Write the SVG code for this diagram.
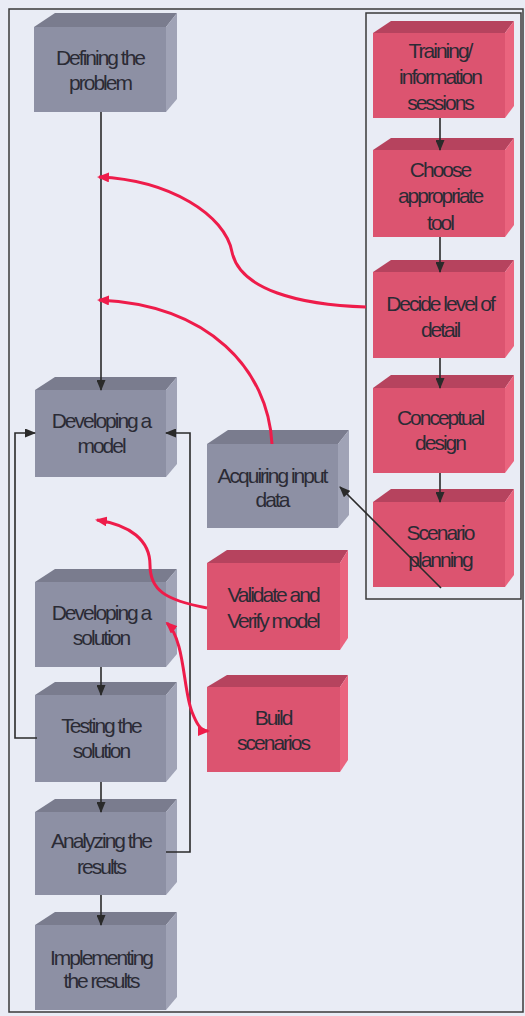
<svg xmlns="http://www.w3.org/2000/svg" width="525" height="1016" viewBox="0 0 525 1016">
<style>
.gf{fill:#8d90a4}.gt{fill:#7a7c8e}.gs{fill:#a0a3b6}
.pf{fill:#dc5470}.pt{fill:#b6435e}.ps{fill:#ea647e}
text{font-family:"Liberation Sans",Arial,sans-serif;font-size:21px;letter-spacing:-2px;fill:#2b2b35;text-anchor:middle}
.k{stroke:#2a2a2a;stroke-width:1.6;fill:none}
.r{stroke:#ee1c4a;stroke-width:3;fill:none}
</style>
<defs>
<marker id="ak" markerUnits="userSpaceOnUse" markerWidth="11" markerHeight="9" refX="10" refY="4.5" orient="auto"><path d="M0,0 L11,4.5 L0,9 z" fill="#2a2a2a"/></marker>
<marker id="ar" markerUnits="userSpaceOnUse" markerWidth="12" markerHeight="10" refX="10" refY="5" orient="auto-start-reverse"><path d="M0,0 L12,5 L0,10 z" fill="#ee1c4a"/></marker>
</defs>
<rect x="0" y="0" width="525" height="1016" fill="#e9ecf5"/>
<rect x="9" y="9" width="514" height="1003" fill="none" stroke="#3a3a3a" stroke-width="1.5"/>
<rect x="366" y="13" width="155" height="586" fill="none" stroke="#3a3a3a" stroke-width="1.5"/>

<g id="n-defining">
<polygon class="gt" points="34,27 55,13 177,13 166,27"/>
<polygon class="gs" points="166,27 177,13 177,99 166,112"/>
<rect class="gf" x="34" y="27" width="132" height="85"/>
<text x="100" y="65">Defining the</text><text x="100" y="90">problem</text>
</g>
<g id="n-model">
<polygon class="gt" points="35,390 55,377 177,377 166,390"/>
<polygon class="gs" points="166,390 177,377 177,464 166,477"/>
<rect class="gf" x="35" y="390" width="131" height="87"/>
<text x="101" y="428">Developing a</text><text x="101" y="453">model</text>
</g>
<g id="n-solution">
<polygon class="gt" points="35,582 55,569 177,569 166,582"/>
<polygon class="gs" points="166,582 177,569 177,654 166,667"/>
<rect class="gf" x="35" y="582" width="131" height="85"/>
<text x="101" y="620">Developing a</text><text x="101" y="645">solution</text>
</g>
<g id="n-testing">
<polygon class="gt" points="35,695 55,682 177,682 166,695"/>
<polygon class="gs" points="166,695 177,682 177,769 166,782"/>
<rect class="gf" x="35" y="695" width="131" height="87"/>
<text x="101" y="733">Testing the</text><text x="101" y="758">solution</text>
</g>
<g id="n-analyzing">
<polygon class="gt" points="35,812 55,799 177,799 166,812"/>
<polygon class="gs" points="166,812 177,799 177,882 166,895"/>
<rect class="gf" x="35" y="812" width="131" height="83"/>
<text x="101" y="848">Analyzing the</text><text x="101" y="874">results</text>
</g>
<g id="n-implementing">
<polygon class="gt" points="35,925 55,912 177,912 166,925"/>
<polygon class="gs" points="166,925 177,912 177,997 166,1010"/>
<rect class="gf" x="35" y="925" width="131" height="85"/>
<text x="101" y="965">Implementing</text><text x="101" y="988">the results</text>
</g>
<g id="n-acquiring">
<polygon class="gt" points="207,444 228,430 349,430 338,444"/>
<polygon class="gs" points="338,444 349,430 349,515 338,528"/>
<rect class="gf" x="207" y="444" width="131" height="84"/>
<text x="272" y="483">Acquiring input</text><text x="272" y="507">data</text>
</g>
<g id="n-validate">
<polygon class="pt" points="207,563 227,550 348,550 340,563"/>
<polygon class="ps" points="340,563 348,550 348,638 340,650"/>
<rect class="pf" x="207" y="563" width="133" height="87"/>
<text x="273" y="602">Validate and</text><text x="273" y="628">Verify model</text>
</g>
<g id="n-build">
<polygon class="pt" points="207,687 227,675 348,675 340,687"/>
<polygon class="ps" points="340,687 348,675 348,760 340,772"/>
<rect class="pf" x="207" y="687" width="133" height="85"/>
<text x="273" y="725">Build</text><text x="273" y="750">scenarios</text>
</g>
<g id="n-training">
<polygon class="pt" points="373,33 391,21 514,21 505,33"/>
<polygon class="ps" points="505,33 514,21 514,106 505,118"/>
<rect class="pf" x="373" y="33" width="132" height="85"/>
<text x="440" y="58">Training/</text><text x="440" y="84">information</text><text x="440" y="110">sessions</text>
</g>
<g id="n-choose">
<polygon class="pt" points="373,150 391,138 514,138 505,150"/>
<polygon class="ps" points="505,150 514,138 514,225 505,237"/>
<rect class="pf" x="373" y="150" width="132" height="87"/>
<text x="440" y="177">Choose</text><text x="440" y="203">appropriate</text><text x="440" y="230">tool</text>
</g>
<g id="n-decide">
<polygon class="pt" points="373,272 391,260 514,260 505,272"/>
<polygon class="ps" points="505,272 514,260 514,346 505,358"/>
<rect class="pf" x="373" y="272" width="132" height="86"/>
<text x="440" y="311">Decide level of</text><text x="440" y="337">detail</text>
</g>
<g id="n-conceptual">
<polygon class="pt" points="373,388 391,375 514,375 505,388"/>
<polygon class="ps" points="505,388 514,375 514,461 505,473"/>
<rect class="pf" x="373" y="388" width="132" height="85"/>
<text x="440" y="425">Conceptual</text><text x="440" y="450">design</text>
</g>
<g id="n-scenario">
<polygon class="pt" points="373,502 391,489 514,489 505,502"/>
<polygon class="ps" points="505,502 514,489 514,575 505,587"/>
<rect class="pf" x="373" y="502" width="132" height="85"/>
<text x="440" y="540">Scenario</text><text x="440" y="567">planning</text>
</g>

<g id="connectors">
<path class="k" d="M101,112 V390" marker-end="url(#ak)"/>
<path class="k" d="M440,118 V150" marker-end="url(#ak)"/>
<path class="k" d="M440,237 V272" marker-end="url(#ak)"/>
<path class="k" d="M440,358 V388" marker-end="url(#ak)"/>
<path class="k" d="M440,473 V502" marker-end="url(#ak)"/>
<path class="k" d="M441,588 L340,487" marker-end="url(#ak)"/>
<path class="k" d="M101,667 V695" marker-end="url(#ak)"/>
<path class="k" d="M101,782 V812" marker-end="url(#ak)"/>
<path class="k" d="M101,895 V925" marker-end="url(#ak)"/>
<path class="k" d="M37,738 H15 V433 H35" marker-end="url(#ak)"/>
<path class="k" d="M166,852 H190 V433 H166" marker-end="url(#ak)"/>
<path class="r" d="M366,307 C300,305 240,290 232,252 C225,215 170,180 99,177" marker-end="url(#ar)"/>
<path class="r" d="M272,444 C268,370 210,305 99,300" marker-end="url(#ar)"/>
<path class="r" d="M207,608 C165,600 150,590 150,565 C150,540 130,525 97,520" marker-end="url(#ar)"/>
<path class="r" d="M167,623 C185,640 183,690 192,712 C196,722 200,731 208,731" marker-start="url(#ar)" marker-end="url(#ar)"/>
</g>
</svg>
